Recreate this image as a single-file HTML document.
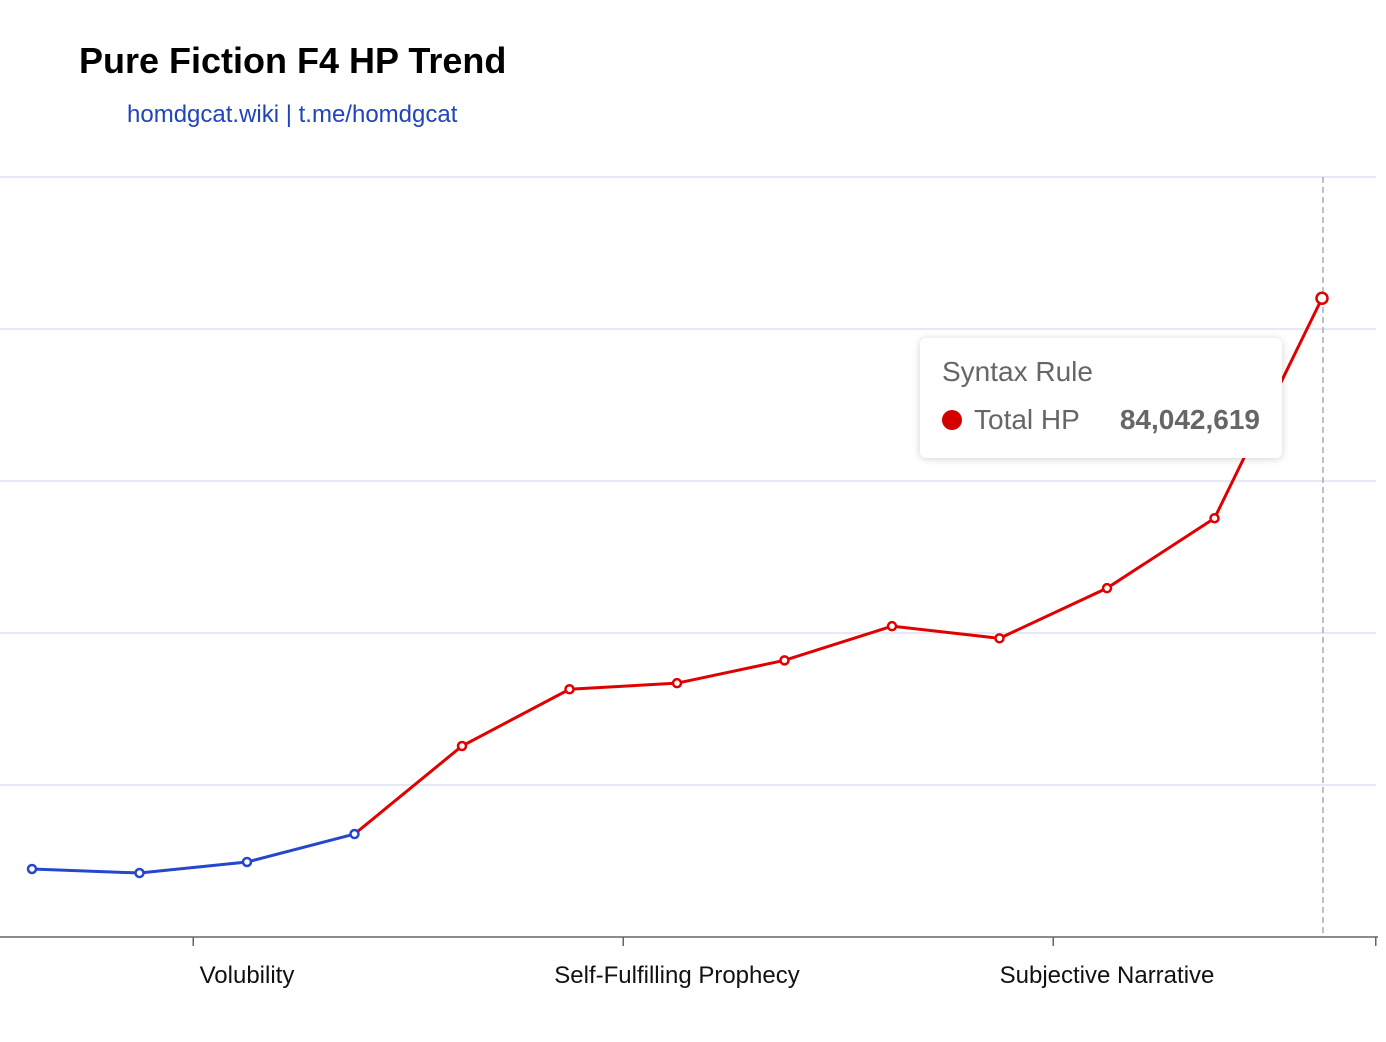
<!DOCTYPE html>
<html><head><meta charset="utf-8"><style>
body{margin:0;background:#fff;font-family:"Liberation Sans",Arial,sans-serif;}
#wrap{position:relative;width:1386px;height:1042px;overflow:hidden;}
.tip{position:absolute;left:920px;top:338px;width:362px;height:120px;background:#fff;border-radius:6px;box-shadow:0 1px 8px rgba(0,0,0,.18);}
</style></head><body>
<div id="wrap">
<svg id="svg" width="1386" height="1042">
<text x="79" y="73" font-size="36" font-weight="bold" fill="#000">Pure Fiction F4 HP Trend</text>
<text x="127" y="122" font-size="24" fill="#2244bb">homdgcat.wiki | t.me/homdgcat</text>
<g id="grid"></g><g id="axis"></g><g id="lines"></g><g id="pts"></g>
</svg>
<div class="tip">
<div style="position:absolute;left:22px;top:18px;font-size:28px;color:#666">Syntax Rule</div>
<div style="position:absolute;left:22px;top:72px;width:20px;height:20px;border-radius:50%;background:#d40000"></div>
<div style="position:absolute;left:54px;top:66px;font-size:28px;color:#666">Total HP</div>
<div style="position:absolute;right:22px;top:66px;font-size:28px;font-weight:bold;color:#666">84,042,619</div>
</div>
</div>
<script>
const categories=["Cat A","Cat B","Volubility","Cat D","Cat E","Cat F","Self-Fulfilling Prophecy","Cat H","Cat I","Cat J","Subjective Narrative","Cat L","Syntax Rule"];
const hpValues=[8950000,8420000,9870000,13550000,25130000,32600000,33400000,36400000,40900000,39300000,45900000,55100000,84042619];
const blueCount=4;
const yTicks=[0,20000000,40000000,60000000,80000000,100000000];
const labelEvery=4, labelOffset=2;
const NS="http://www.w3.org/2000/svg";
const x0=32,dx=107.5,yBase=937,yTop=177,yMax=100000000;
const X=i=>x0+i*dx, Y=v=>yBase-(v/yMax)*(yBase-yTop);
function mk(t,a,p){const e=document.createElementNS(NS,t);for(const k in a)e.setAttribute(k,a[k]);document.getElementById(p).appendChild(e);return e;}
yTicks.forEach((v,i)=>{if(v===0)return;const l=mk('line',{x1:0,x2:1376,y1:Y(v),y2:Y(v),stroke:'#dde2ee','stroke-width':1.5},'grid');

});
const ax=mk('line',{x1:0,x2:1378,y1:yBase,y2:yBase,stroke:'#666','stroke-width':1.5},'axis');


categories.forEach((c,i)=>{
 if((i-labelOffset)%labelEvery===0){
  const tx=X(i)-dx/2;const tk=mk('line',{x1:tx,x2:tx,y1:yBase,y2:yBase+9,stroke:'#666','stroke-width':1.5},'axis');
  
  
  const t=mk('text',{x:X(i),y:yBase+46,'font-size':24,'text-anchor':'middle',fill:'#111'},'axis');t.textContent=c;
  
  
 }});
const etx=X(categories.length-1)+dx/2;const et=mk('line',{x1:etx,x2:etx,y1:yBase,y2:yBase+9,stroke:'#666','stroke-width':1.5},'axis');


const last=categories.length-1;
const cl=mk('line',{x1:X(last)+1,x2:X(last)+1,y1:yTop,y2:yBase,stroke:'#aab','stroke-width':1.5,'stroke-dasharray':'6,4'},'axis');


const pb=hpValues.slice(0,blueCount).map((v,i)=>X(i)+','+Y(v)).join(' ');
const pr=hpValues.map((v,i)=>i>=blueCount-1?X(i)+','+Y(v):null).filter(Boolean).join(' ');
const lb=mk('polyline',{points:pb,fill:'none',stroke:'#2447cc','stroke-width':3},'lines');


const lr=mk('polyline',{points:pr,fill:'none',stroke:'#e00000','stroke-width':3},'lines');


hpValues.forEach((v,i)=>{const col=i<blueCount?'#2447cc':'#e00000';
 const c=mk('circle',{cx:X(i),cy:Y(v),r:i===last?5.5:4,fill:'#fff',stroke:col,'stroke-width':2.5},'pts');
 
 });
</script>
</body></html>
